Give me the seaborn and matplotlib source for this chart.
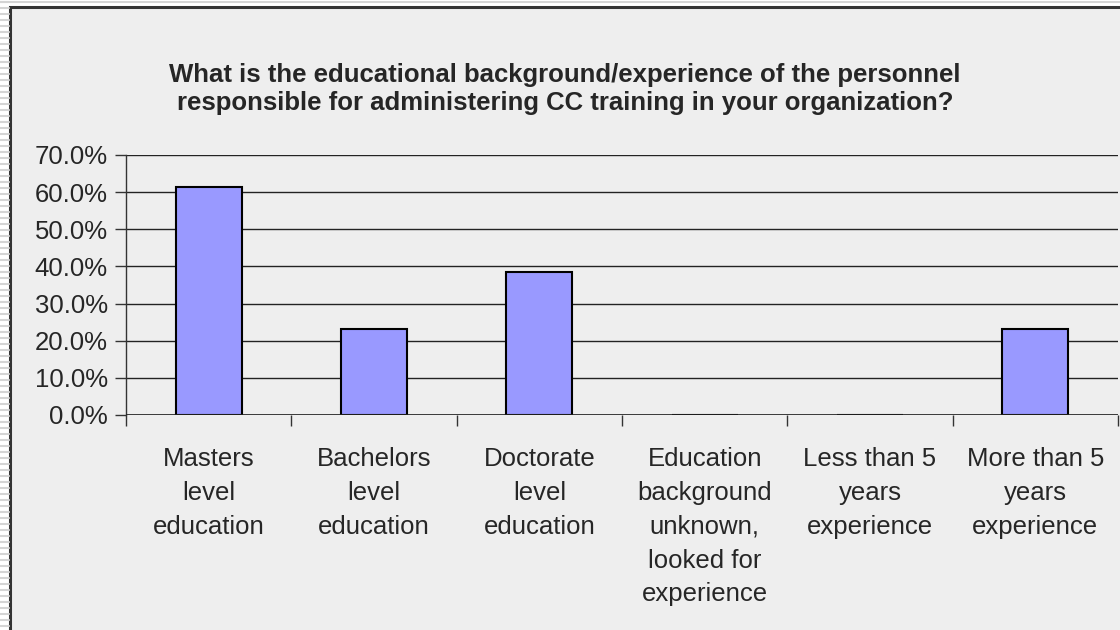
import matplotlib
matplotlib.use("Agg")
import matplotlib.pyplot as plt
import seaborn as sns
import pandas as pd
from matplotlib.patches import Rectangle
from matplotlib.lines import Line2D
from matplotlib.ticker import FuncFormatter, MultipleLocator

categories = [
    "Masters\nlevel\neducation",
    "Bachelors\nlevel\neducation",
    "Doctorate\nlevel\neducation",
    "Education\nbackground\nunknown,\nlooked for\nexperience",
    "Less than 5\nyears\nexperience",
    "More than 5\nyears\nexperience",
]
percent_values = [61.5, 23.1, 38.5, 0.0, 0.0, 23.1]
title_text = ("What is the educational background/experience of the personnel\n"
              "responsible for administering CC training in your organization?")

sns.set_theme(style="white")
plt.rcParams["font.family"] = ["Liberation Sans", "DejaVu Sans"]

W, H = 1120, 630
fig = plt.figure(figsize=(W / 100, H / 100), dpi=100)
fig.patch.set_facecolor("white")

# striped margin (left and top) outside the chart frame
for y in range(2, H, 6):
    fig.add_artist(Line2D([0, 9 / W], [1 - y / H, 1 - y / H], transform=fig.transFigure,
                          color="#d4d4d4", lw=1.5))
fig.add_artist(Line2D([0, 1], [1 - 2 / H, 1 - 2 / H], transform=fig.transFigure,
                      color="#d4d4d4", lw=1.5))
# chart area frame
fig.add_artist(Rectangle((10 / W, -0.05), 1.1, 1 - 7 / H + 0.05, transform=fig.transFigure,
                         facecolor="#eeeeee", edgecolor="#333333", lw=2.2, zorder=0))

ax = fig.add_axes([126 / W, 1 - 415 / H, (1118 - 126) / W, (415 - 155) / H])
ax.set_facecolor("none")

df = pd.DataFrame({"cat": categories, "val": percent_values})
sns.barplot(data=df, x="cat", y="val", color="#9999ff", saturation=1, width=0.4,
            edgecolor="black", linewidth=1.5, ax=ax, zorder=3)

ax.set_ylim(0, 70)
ax.set_xlim(-0.5, len(categories) - 0.5)
ax.yaxis.set_major_locator(MultipleLocator(10))
ax.yaxis.set_major_formatter(FuncFormatter(lambda v, p: f"{v:.1f}%"))
ax.grid(axis="y", color="#222222", lw=1.0, zorder=0)
ax.set_axisbelow(True)
for s in ["top", "right", "bottom"]:
    ax.spines[s].set_visible(False)
ax.spines["left"].set_color("#333333")
ax.spines["left"].set_linewidth(1.0)

ax.set_xlabel("")
ax.set_ylabel("")
ax.tick_params(axis="y", direction="out", length=8, width=1, color="#333333",
               labelsize=18.5, pad=5, left=True)
# x tick marks at category boundaries, labels at centres
ax.set_xticks([i for i in range(len(categories))])
ax.set_xticklabels(categories, fontsize=18.5, linespacing=1.52, va="top")
ax.tick_params(axis="x", which="major", length=0, pad=23)
ax.set_xticks([i - 0.5 for i in range(len(categories) + 1)], minor=True)
ax.tick_params(axis="x", which="minor", direction="out", length=8, width=1,
               color="#333333", bottom=True)
ax.axhline(0, color="#222222", lw=1.2, zorder=4)

fig.text(0.5 + 10 / W / 2, 1 - 89 / H, title_text, ha="center", va="center",
         fontsize=18.5, fontweight="bold", linespacing=1.25)

fig.savefig("out.png", dpi=100, facecolor=fig.get_facecolor())
